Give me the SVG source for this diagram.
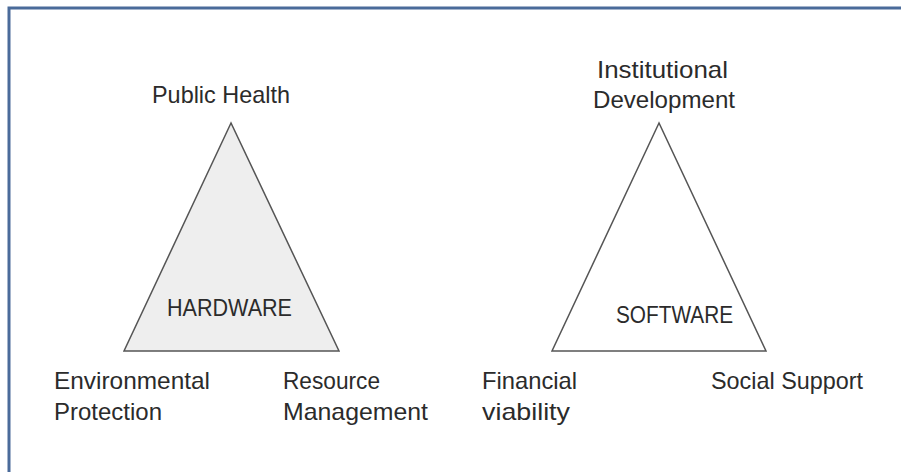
<svg xmlns="http://www.w3.org/2000/svg" width="901" height="472" viewBox="0 0 901 472">
<style>
.t{font-family:"Liberation Sans",Arial,sans-serif;font-size:24px;fill:#2b2b2b}
.tri{stroke:#555;stroke-width:1.5;stroke-linejoin:miter}
</style>
<rect x="0" y="0" width="901" height="472" fill="#ffffff"/>
<rect id="frame" x="9" y="8" width="910" height="480" fill="none" stroke="#4a6b9a" stroke-width="3"/>
<g id="hardware">
<polygon class="tri" points="231,123 124,351 339,351" fill="#eeeeee"/>
<text class="t" x="167" y="316" textLength="125" lengthAdjust="spacingAndGlyphs">HARDWARE</text>
</g>
<g id="software">
<polygon class="tri" points="659,123 552,351 766,351" fill="#ffffff"/>
<text class="t" x="616" y="323" textLength="117" lengthAdjust="spacingAndGlyphs">SOFTWARE</text>
</g>
<g id="public-health"><text class="t" x="152" y="103" textLength="138" lengthAdjust="spacingAndGlyphs">Public Health</text></g>
<g id="institutional-development">
<text class="t" x="597" y="78" textLength="131" lengthAdjust="spacingAndGlyphs">Institutional</text>
<text class="t" x="593" y="108" textLength="142" lengthAdjust="spacingAndGlyphs">Development</text>
</g>
<g id="environmental-protection">
<text class="t" x="54" y="389" textLength="156" lengthAdjust="spacingAndGlyphs">Environmental</text>
<text class="t" x="54" y="420" textLength="108" lengthAdjust="spacingAndGlyphs">Protection</text>
</g>
<g id="resource-management">
<text class="t" x="283" y="389" textLength="97" lengthAdjust="spacingAndGlyphs">Resource</text>
<text class="t" x="283" y="420" textLength="145" lengthAdjust="spacingAndGlyphs">Management</text>
</g>
<g id="financial-viability">
<text class="t" x="482" y="389" textLength="95" lengthAdjust="spacingAndGlyphs">Financial</text>
<text class="t" x="482" y="420" textLength="88" lengthAdjust="spacingAndGlyphs">viability</text>
</g>
<g id="social-support"><text class="t" x="711" y="389" textLength="152" lengthAdjust="spacingAndGlyphs">Social Support</text></g>
<g id="connectors"></g>
</svg>
